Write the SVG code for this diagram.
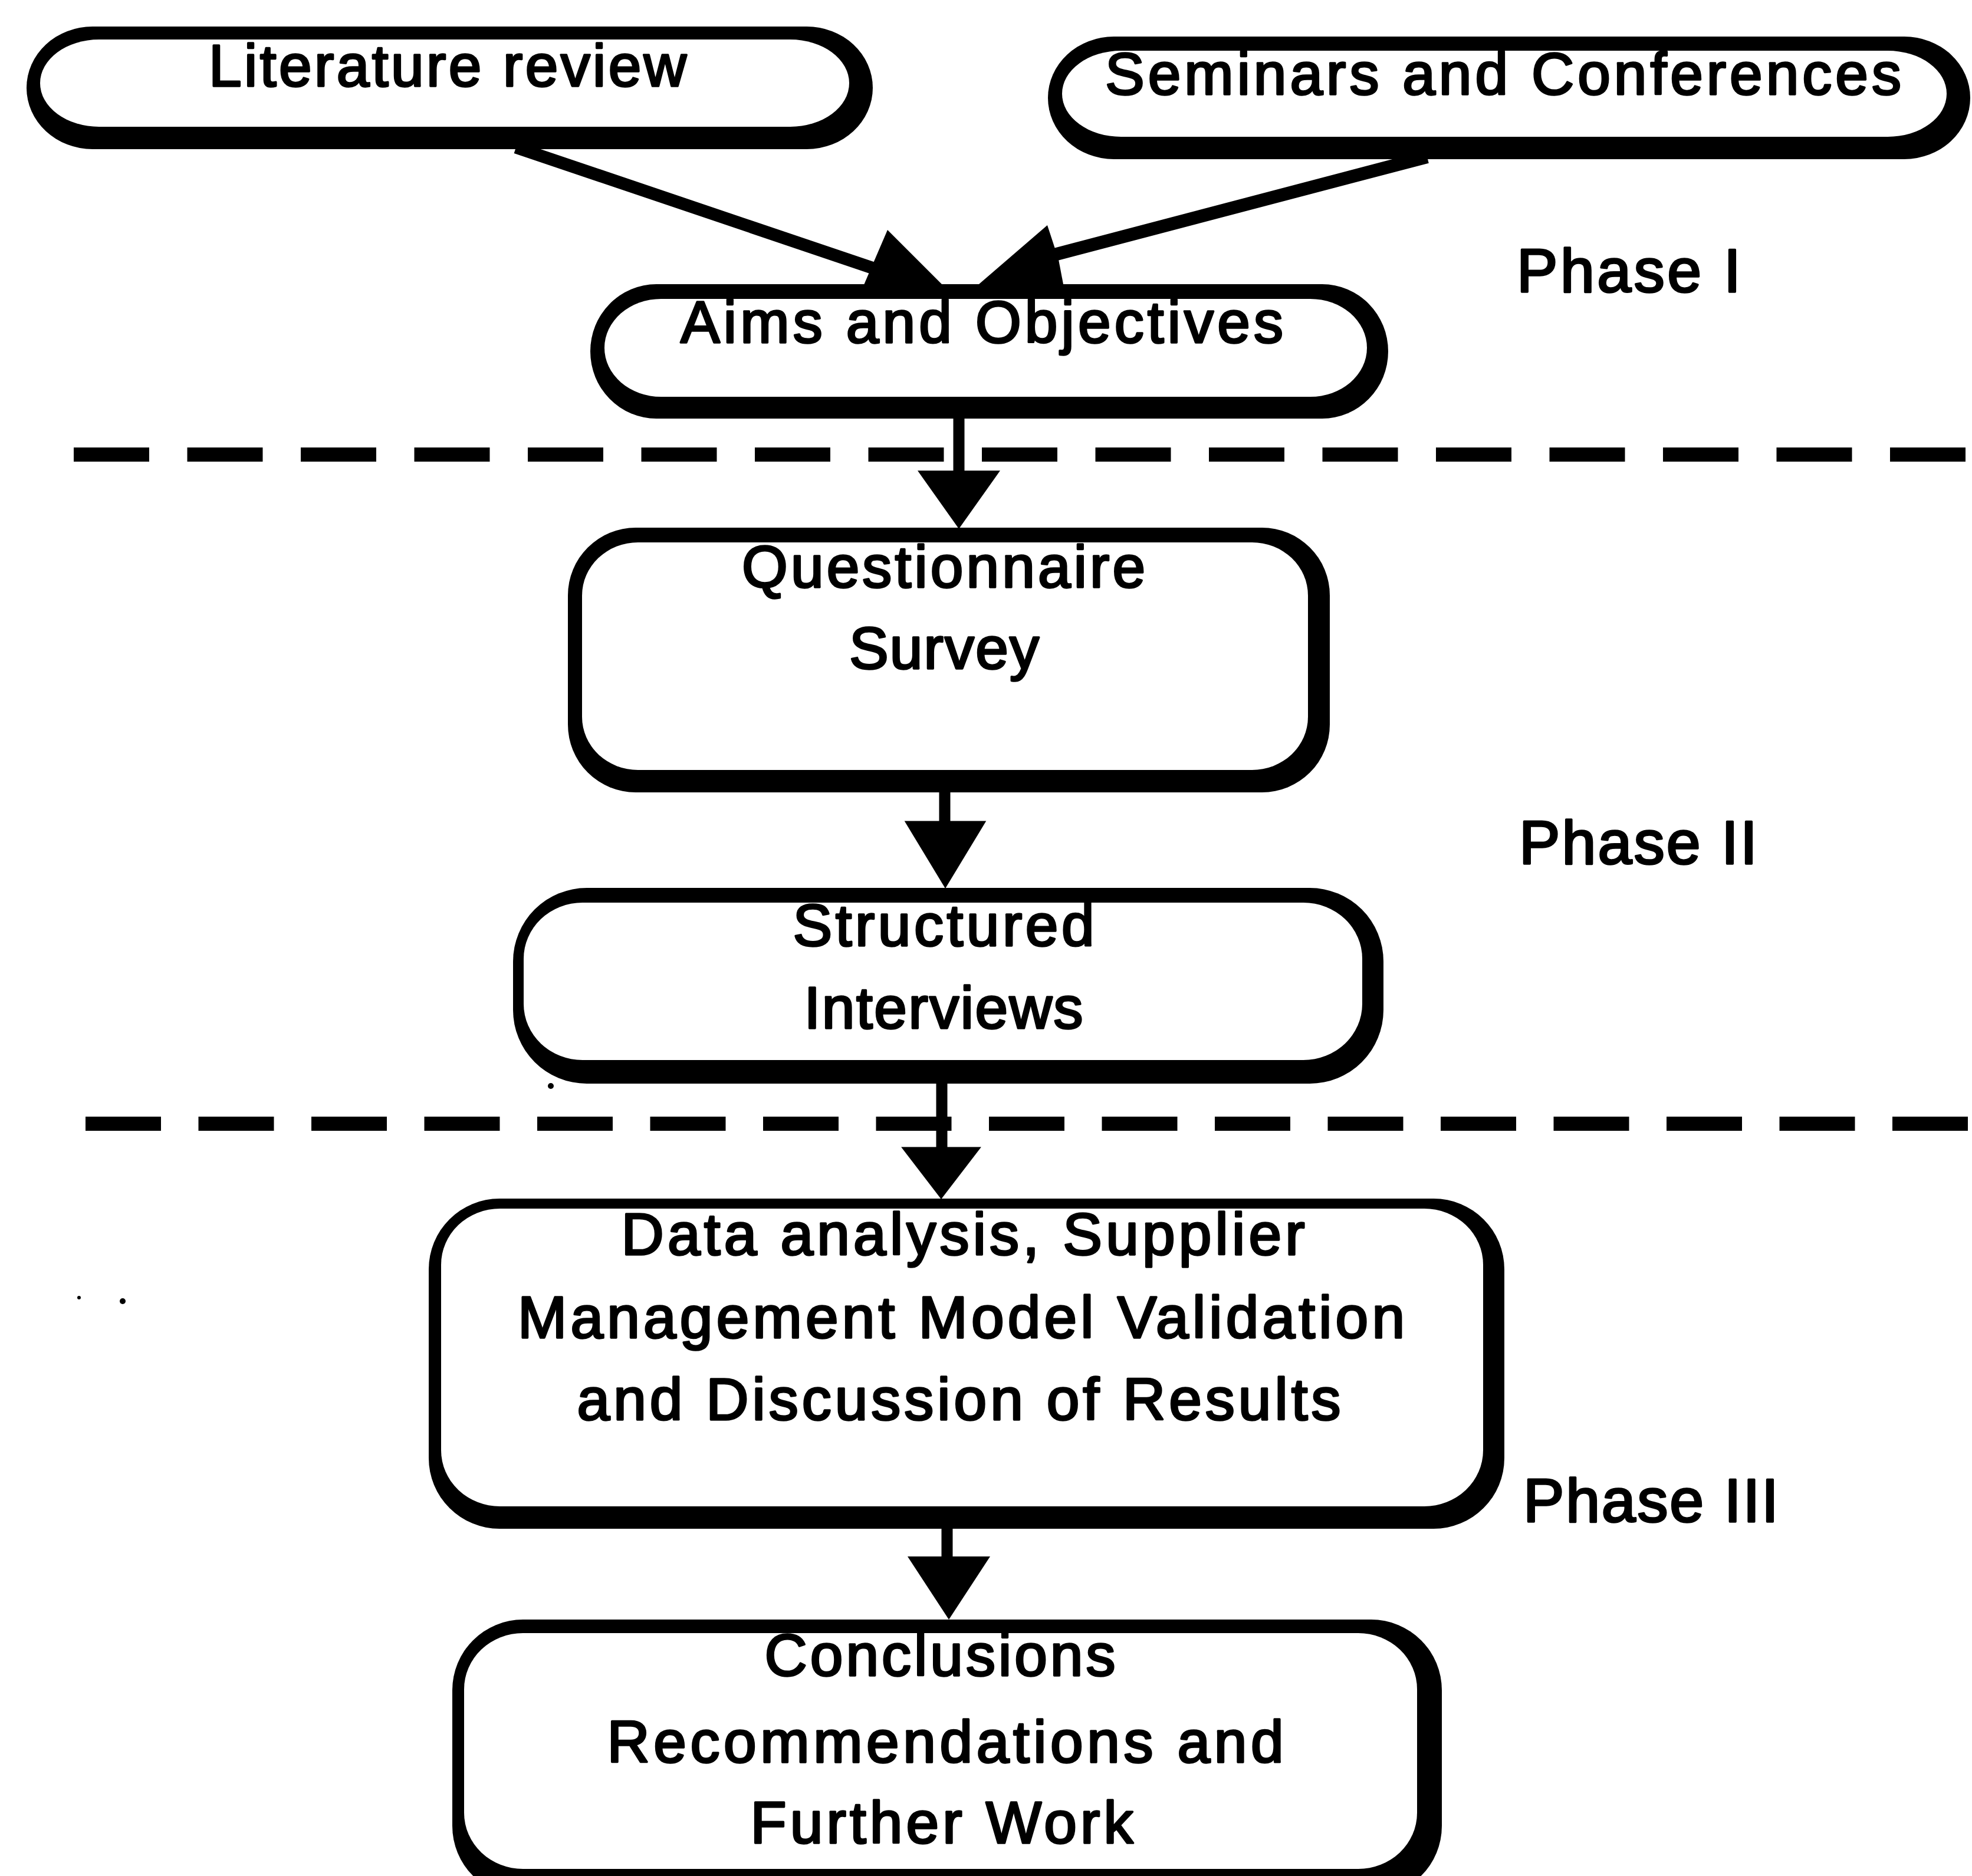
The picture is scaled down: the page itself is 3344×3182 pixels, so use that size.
<svg xmlns="http://www.w3.org/2000/svg" xmlns:xlink="http://www.w3.org/1999/xlink" width="3344" height="3182" viewBox="0 0 3344 3182">
  <style>
    .frame { fill: #000; }
    .inner { fill: #fff; }
    .label { font-family: "Liberation Sans", Arial, sans-serif; font-size: 100px; fill: #000; stroke: #000; stroke-width: 3.5; stroke-linejoin: round; text-anchor: middle; }
    .phase { font-family: "Liberation Sans", Arial, sans-serif; font-size: 104px; fill: #000; stroke: #000; stroke-width: 3.5; stroke-linejoin: round; }
    .wire { stroke: #000; fill: none; }
    .divider { stroke: #000; stroke-width: 24; fill: none; }
  </style>
  <defs>
    <!-- downward arrowhead, tip at the origin -->
    <path id="headDown" d="M-70,-104 L70,-104 L0,0 Z" fill="#000"/>
  </defs>

  <rect width="3344" height="3182" fill="#fff"/>

  <!-- phase dividers -->
  <g id="dividers">
    <line class="divider" x1="125" y1="771" x2="3344" y2="771" stroke-dasharray="128 64.5"/>
    <line class="divider" x1="145" y1="1906" x2="3344" y2="1906" stroke-dasharray="128 63.5"/>
  </g>

  <!-- nodes: black outer shape (border + drop shadow) with white face -->
  <g id="literature-review">
    <rect class="frame" x="45" y="45" width="1435" height="208" rx="112" ry="104"/>
    <rect class="inner" x="68" y="67" width="1372" height="148" rx="100" ry="74"/>
    <text class="label" x="759" y="146" textLength="810" lengthAdjust="spacing">Literature review</text>
  </g>

  <g id="seminars-conferences">
    <rect class="frame" x="1777" y="62" width="1564" height="208" rx="112" ry="104"/>
    <rect class="inner" x="1801" y="86" width="1500" height="146" rx="100" ry="73"/>
    <text class="label" x="2549" y="160" textLength="1350" lengthAdjust="spacing">Seminars and Conferences</text>
  </g>

  <g id="aims-objectives">
    <rect class="frame" x="1001" y="482" width="1353" height="228" rx="112" ry="114"/>
    <rect class="inner" x="1025" y="507" width="1293" height="166" rx="96" ry="83"/>
    <text class="label" x="1665" y="581" textLength="1022" lengthAdjust="spacing">Aims and Objectives</text>
  </g>

  <g id="questionnaire-survey">
    <rect class="frame" x="963" y="895" width="1292" height="449" rx="115" ry="115"/>
    <rect class="inner" x="987" y="920" width="1231" height="386" rx="95" ry="90"/>
    <text class="label" x="1600" y="996" textLength="684" lengthAdjust="spacing">Questionnaire</text>
    <text class="label" x="1601" y="1134" textLength="322" lengthAdjust="spacing">Survey</text>
  </g>

  <g id="structured-interviews">
    <rect class="frame" x="870" y="1506" width="1476" height="332" rx="125" ry="125"/>
    <rect class="inner" x="888" y="1531" width="1422" height="267" rx="100" ry="95"/>
    <text class="label" x="1600" y="1604" textLength="511" lengthAdjust="spacing">Structured</text>
    <text class="label" x="1600" y="1744" textLength="473" lengthAdjust="spacing">Interviews</text>
  </g>

  <g id="data-analysis">
    <rect class="frame" x="727" y="2033" width="1824" height="560" rx="120" ry="120"/>
    <rect class="inner" x="748" y="2050" width="1767" height="505" rx="100" ry="95"/>
    <text class="label" x="1633" y="2128" textLength="1159" lengthAdjust="spacing">Data analysis, Supplier</text>
    <text class="label" x="1630" y="2269" textLength="1504" lengthAdjust="spacing">Management Model Validation</text>
    <text class="label" x="1626" y="2408" textLength="1295" lengthAdjust="spacing">and Discussion of Results</text>
  </g>

  <g id="conclusions">
    <rect class="frame" x="767" y="2747" width="1678" height="470" rx="120" ry="120"/>
    <rect class="inner" x="787" y="2770" width="1616" height="400" rx="100" ry="95"/>
    <text class="label" x="1594" y="2842" textLength="595" lengthAdjust="spacing">Conclusions</text>
    <text class="label" x="1603" y="2989" textLength="1147" lengthAdjust="spacing">Recommendations and</text>
    <text class="label" x="1597" y="3126" textLength="649" lengthAdjust="spacing">Further Work</text>
  </g>

  <!-- phase labels -->
  <g id="phase-labels">
    <text class="phase" x="2572" y="495" textLength="380" lengthAdjust="spacing">Phase I</text>
    <text class="phase" x="2576" y="1465" textLength="404" lengthAdjust="spacing">Phase II</text>
    <text class="phase" x="2583" y="2581" textLength="433" lengthAdjust="spacing">Phase III</text>
  </g>

  <!-- connectors -->
  <g id="connectors">
    <line class="wire" stroke-width="21" x1="875" y1="250" x2="1490" y2="458"/>
    <polygon points="1505,390 1465,483 1598,483" fill="#000"/>

    <line class="wire" stroke-width="22" x1="2420" y1="266" x2="1780" y2="434"/>
    <polygon points="1776,382 1660,482 1803,482 1795,440" fill="#000"/>

    <line class="wire" stroke-width="19" x1="1626" y1="710" x2="1626" y2="805"/>
    <use xlink:href="#headDown" transform="translate(1626,897) scale(1,0.95)"/>

    <line class="wire" stroke-width="19" x1="1602" y1="1344" x2="1602" y2="1395"/>
    <use xlink:href="#headDown" transform="translate(1603,1507) scale(0.99,1.1)"/>

    <line class="wire" stroke-width="19" x1="1597" y1="1838" x2="1597" y2="1955"/>
    <use xlink:href="#headDown" transform="translate(1596,2034) scale(0.97,0.85)"/>

    <line class="wire" stroke-width="19" x1="1606" y1="2593" x2="1606" y2="2645"/>
    <use xlink:href="#headDown" transform="translate(1609,2747) scale(1,1.03)"/>
  </g>

  <!-- stray marks -->
  <g id="specks" fill="#000">
    <circle cx="934" cy="1842" r="5"/>
    <circle cx="134" cy="2201" r="3"/>
    <circle cx="208" cy="2207" r="5"/>
  </g>
</svg>
